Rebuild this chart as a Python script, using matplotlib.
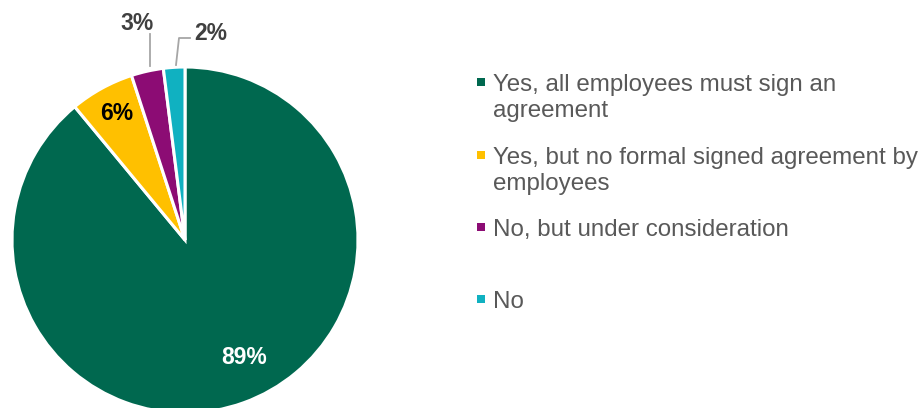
import matplotlib
matplotlib.use("Agg")
import matplotlib.pyplot as plt

plt.rcParams['font.family'] = ['Liberation Sans', 'DejaVu Sans']

categories = [
    "Yes, all employees must sign an\nagreement",
    "Yes, but no formal signed agreement by\nemployees",
    "No, but under consideration",
    "No",
]
values = [89, 6, 3, 2]
labels = ["89%", "6%", "3%", "2%"]
colors = ["#00684F", "#FFC000", "#8C0C74", "#10B1C1"]

W, H = 923, 408
fig = plt.figure(figsize=(W / 100, H / 100), dpi=100)
ax = fig.add_axes([0, 0, 1, 1])

cx, cy, r = 185, H - 240, 173
wedges, _ = ax.pie(values, colors=colors, startangle=90, counterclock=False,
                   center=(cx, cy), radius=r,
                   wedgeprops=dict(edgecolor="white", linewidth=2.2))
ax.set_xlim(0, W)
ax.set_ylim(0, H)
ax.set_aspect("equal")
ax.axis("off")


def px(x, y):
    """Convert a top-left pixel position to data coordinates."""
    return x, H - y


# value labels
lab_pos = [(244, 357), (117, 114), (137, 23), (211, 33)]
lab_col = ["white", "black", "#404040", "#404040"]
for txt, (x, y), c in zip(labels, lab_pos, lab_col):
    ax.text(*px(x, y), txt, color=c, fontsize=16.5, fontweight="bold",
            ha="center", va="center")

# leader lines for the small slices
lc = "#A6A6A6"
ax.plot([150, 150], [H - 34, H - 66], color=lc, lw=1.3)
ax.plot([190, 179, 176], [H - 38, H - 38, H - 65], color=lc, lw=1.3)

# legend
baselines = [91, 164, 236, 308]
line_gap = 26
for cat, col, yb in zip(categories, colors, baselines):
    ax.scatter(*px(481, yb - 9), marker="s", s=34, color=col, linewidths=0)
    for i, line in enumerate(cat.split("\n")):
        ax.text(*px(493, yb + i * line_gap), line, color="#595959",
                fontsize=17.4, ha="left", va="baseline")

fig.savefig("out.png", dpi=100)
